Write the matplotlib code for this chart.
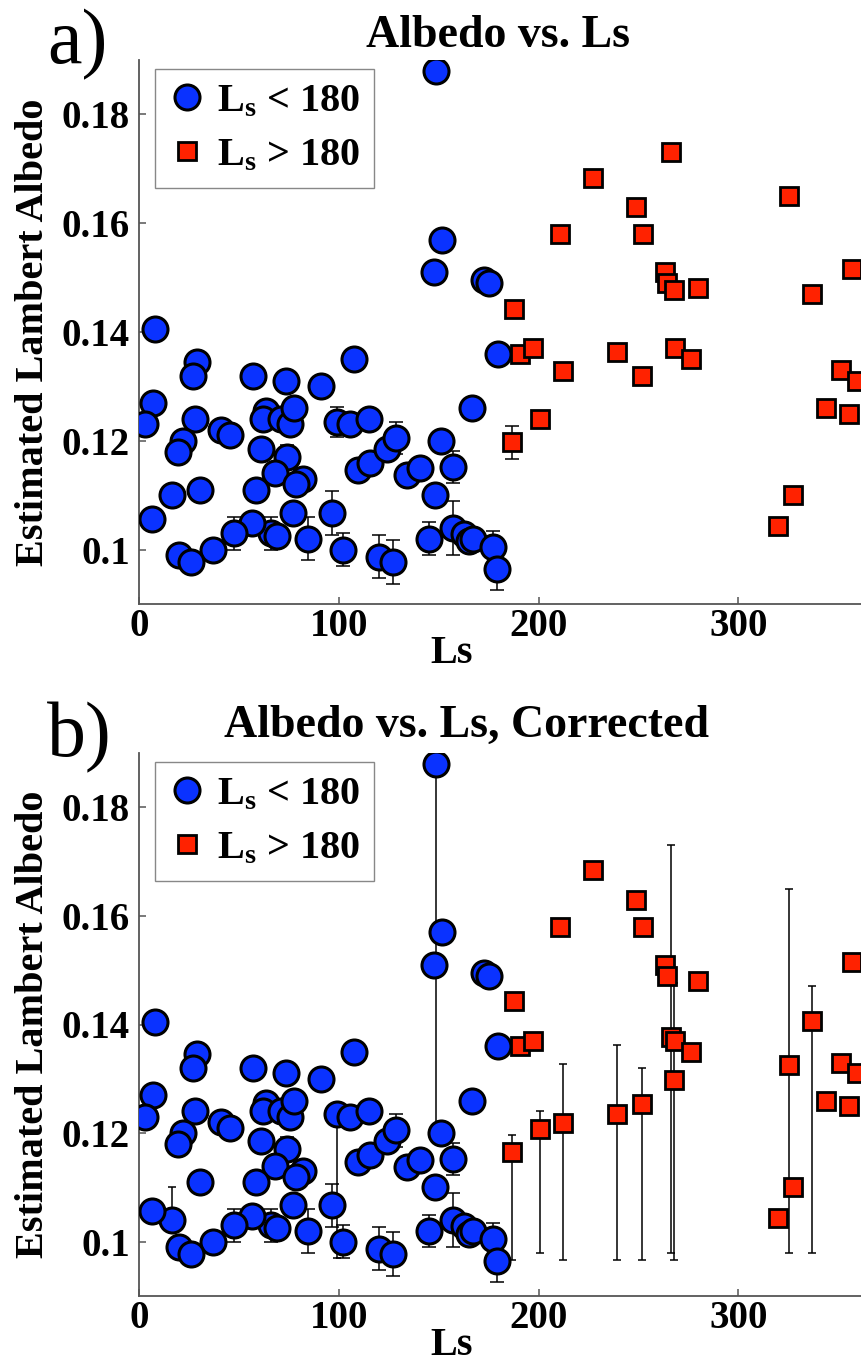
import numpy as np
import matplotlib
matplotlib.use("Agg")
import matplotlib.pyplot as plt
from matplotlib.lines import Line2D

plt.rcParams['font.family'] = ['Liberation Serif', 'DejaVu Serif']
plt.rcParams['font.weight'] = 'bold'
plt.rcParams['mathtext.fontset'] = 'custom'
plt.rcParams['mathtext.rm'] = 'Liberation Serif:bold'
plt.rcParams['mathtext.it'] = 'Liberation Serif:bold'
plt.rcParams['mathtext.bf'] = 'Liberation Serif:bold'
plt.rcParams['mathtext.default'] = 'rm'

# ---- Ls < 180 observations ----
blue_ls = [148.5, 151.5, 147.5, 172.5, 175, 8, 29, 27, 57, 73.5,
           91, 107.5, 179.5, 7, 3, 28, 22, 19.5, 41, 45.5,
           63.5, 62, 71, 75.5, 77.5, 61, 74, 68, 82, 78.5,
           58.5, 30.5, 16.5, 6.5, 99, 105.5, 115, 109.5, 115.5, 124,
           128.5, 134, 140.5, 151, 157, 166.5, 148, 157, 162.5, 165,
           167, 177, 179, 145, 102, 120, 127, 96.5, 84.5, 77,
           66, 69, 56.5, 47.5, 37, 20, 26]
blue_alb = [0.188, 0.157, 0.151, 0.1495, 0.149, 0.1405, 0.1345, 0.132, 0.132, 0.131,
            0.130, 0.135, 0.136, 0.127, 0.123, 0.124, 0.120, 0.118, 0.122, 0.121,
            0.1255, 0.124, 0.124, 0.123, 0.126, 0.1185, 0.117, 0.114, 0.113, 0.112,
            0.111, 0.111, 0.110, 0.1057, 0.1235, 0.123, 0.124, 0.1147, 0.116, 0.1185,
            0.1205, 0.1137, 0.115, 0.120, 0.1152, 0.126, 0.110, 0.104, 0.1028, 0.1015,
            0.102, 0.1005, 0.0965, 0.102, 0.100, 0.0987, 0.0977, 0.1067, 0.102, 0.1068,
            0.103, 0.1025, 0.1048, 0.103, 0.100, 0.099, 0.0977]
blue_err = [0, 0, 0, 0, 0, 0, 0, 0, 0, 0,
            0, 0, 0, 0, 0, 0, 0, 0, 0, 0,
            0, 0, 0, 0, 0, 0, 0.0022, 0, 0, 0,
            0, 0, 0, 0, 0.0028, 0, 0, 0, 0, 0,
            0.003, 0, 0, 0, 0.0029, 0, 0, 0.005, 0, 0,
            0, 0.003, 0.004, 0.003, 0.003, 0.004, 0.004, 0.004, 0.004, 0,
            0.003, 0, 0, 0.003, 0, 0, 0]
# corrected albedo and lower bound of the corrected range (nan = unchanged)
blue_alb_corr = list(blue_alb)
blue_alb_corr[32] = 0.104
blue_low_corr = [np.nan] * len(blue_ls)
blue_low_corr[0] = 0.121
blue_low_corr[32] = 0.104
blue_low_corr[34] = 0.097

# ---- Ls > 180 observations ----
red_ls = [266.5, 227, 325.5, 249, 210.5, 252.5, 263.5, 264.5, 268, 280,
          337, 357, 187.5, 190.5, 197, 212, 239, 252, 268.5, 276.5,
          351.5, 359.5, 344, 355.5, 200.5, 186.5, 327.5, 320]
red_alb = [0.173, 0.1684, 0.165, 0.163, 0.158, 0.158, 0.151, 0.149, 0.1477, 0.148,
           0.147, 0.1516, 0.1443, 0.136, 0.137, 0.1328, 0.1363, 0.132, 0.137, 0.135,
           0.133, 0.131, 0.126, 0.125, 0.124, 0.1197, 0.110, 0.1044]
red_err = [0, 0, 0, 0, 0, 0, 0, 0, 0, 0,
           0, 0, 0, 0, 0, 0, 0, 0, 0, 0,
           0, 0, 0, 0, 0, 0.003, 0, 0]
red_alb_corr = [0.1377, 0.1684, 0.1325, 0.163, 0.158, 0.158, 0.151, 0.149, 0.1297, 0.148,
                0.1406, 0.1516, 0.1443, 0.136, 0.137, 0.1219, 0.1235, 0.1254, 0.137, 0.135,
                0.133, 0.131, 0.126, 0.125, 0.1207, 0.1166, 0.110, 0.1044]
nan = np.nan
red_low_corr = [0.0979, nan, 0.0979, nan, nan, nan, nan, nan, 0.0967, nan,
                0.0979, nan, nan, nan, nan, 0.0967, 0.0967, 0.0967, nan, nan,
                nan, nan, nan, nan, 0.0979, 0.0967, nan, nan]

x_ticks = [0, 100, 200, 300]
y_ticks = [0.10, 0.12, 0.14, 0.16, 0.18]
y_tick_labels = ['0.1', '0.12', '0.14', '0.16', '0.18']
titles = ['Albedo vs. Ls', 'Albedo vs. Ls, Corrected']
panel_tags = ['a)', 'b)']

BLUE = '#0a32ff'
RED = '#ff2200'
SPINE = '#555555'

W, H = 862, 1363
fig = plt.figure(figsize=(W / 100, H / 100), dpi=100)


def px_box(left, top, right, bottom):
    return [left / W, 1 - bottom / H, (right - left) / W, (bottom - top) / H]


def draw_bars(ax, x, y, lo, up, capsize):
    x = np.asarray(x, float); y = np.asarray(y, float)
    lo = np.asarray(lo, float); up = np.asarray(up, float)
    m = (lo > 0) | (up > 0)
    if m.any():
        ax.errorbar(x[m], y[m], yerr=[lo[m], up[m]], fmt='none', ecolor='black',
                    elinewidth=1.1, capsize=capsize, capthick=1.1, zorder=2)


def style_axes(ax, title, tag, title_px, tag_px):
    ax.set_xlim(0, 362)
    ax.set_ylim(0.09, 0.19)
    ax.set_xticks(x_ticks)
    ax.set_yticks(y_ticks)
    ax.set_yticklabels(y_tick_labels)
    for s in ['top', 'right']:
        ax.spines[s].set_visible(False)
    for s in ['left', 'bottom']:
        ax.spines[s].set_color(SPINE)
        ax.spines[s].set_linewidth(1.3)
    ax.tick_params(direction='in', length=5, width=1.1, color=SPINE,
                   labelsize=28)
    ax.tick_params(axis='x', pad=3)
    ax.tick_params(axis='y', pad=7)
    for lab in ax.get_xticklabels() + ax.get_yticklabels():
        lab.set_fontweight('bold')
    ax.set_xlabel('Ls', fontsize=29, fontweight='bold')
    ax.xaxis.set_label_coords(0.432, -0.108)
    ax.xaxis.label.set_va('baseline')
    ax.set_ylabel('Estimated Lambert Albedo', fontsize=29, fontweight='bold')
    ax.yaxis.set_label_coords(-0.121, 0.5)
    fig.text(title_px[0] / W, 1 - title_px[1] / H, title, ha='center',
             va='baseline', fontsize=33, fontweight='bold')
    fig.text(tag_px[0] / W, 1 - tag_px[1] / H, tag, ha='left', va='baseline',
             fontsize=56, fontweight='normal')

    handles = [
        Line2D([], [], ls='none', marker='o', ms=18, mfc=BLUE, mec='black', mew=2.2),
        Line2D([], [], ls='none', marker='s', ms=12.5, mfc=RED, mec='black', mew=2.0),
    ]
    leg = ax.legend(handles, [r'L$_{s}$ < 180', r'L$_{s}$ > 180'],
                    loc='upper left', bbox_to_anchor=(0.021, 0.983),
                    borderaxespad=0, fancybox=False, framealpha=1,
                    edgecolor='#888888', prop={'size': 29, 'weight': 'bold'},
                    handlelength=0.9, handletextpad=0.3, borderpad=0.35,
                    labelspacing=0.4)
    leg.get_frame().set_linewidth(1.0)


def draw_points(ax, bx, by, rx, ry):
    ax.plot(bx, by, ls='none', marker='o', ms=18, mfc=BLUE, mec='black',
            mew=2.2, zorder=3)
    ax.plot(rx, ry, ls='none', marker='s', ms=12.5, mfc=RED, mec='black',
            mew=2.0, zorder=4)


# ---- panel a: raw values ----
ax1 = fig.add_axes(px_box(139.5, 60, 862, 604))
draw_bars(ax1, blue_ls, blue_alb, blue_err, blue_err, 4.7)
draw_bars(ax1, red_ls, red_alb, red_err, red_err, 4.7)
draw_points(ax1, blue_ls, blue_alb, red_ls, red_alb)
style_axes(ax1, titles[0], panel_tags[0], (498, 47), (47, 63))

# ---- panel b: corrected values ----
ax2 = fig.add_axes(px_box(139.5, 753, 862, 1296))


def corrected_bars(alb, corr, low, err):
    alb = np.asarray(alb); corr = np.asarray(corr)
    low = np.asarray(low, float); err = np.asarray(err)
    has = ~np.isnan(low)
    lo = np.where(has, corr - np.nan_to_num(low), err)
    up = np.where(has, alb - corr, err)
    return has, lo, up


for xs, alb, corr, low, err in [(blue_ls, blue_alb, blue_alb_corr, blue_low_corr, blue_err),
                                (red_ls, red_alb, red_alb_corr, red_low_corr, red_err)]:
    has, lo, up = corrected_bars(alb, corr, low, err)
    xs_a = np.asarray(xs, float); c = np.asarray(corr)
    draw_bars(ax2, xs_a[~has], c[~has], lo[~has], up[~has], 4.7)
    draw_bars(ax2, xs_a[has], c[has], lo[has], up[has], 3.0)

draw_points(ax2, blue_ls, blue_alb_corr, red_ls, red_alb_corr)
style_axes(ax2, titles[1], panel_tags[1], (466, 737), (47, 756))

fig.savefig('out.png', dpi=100)
